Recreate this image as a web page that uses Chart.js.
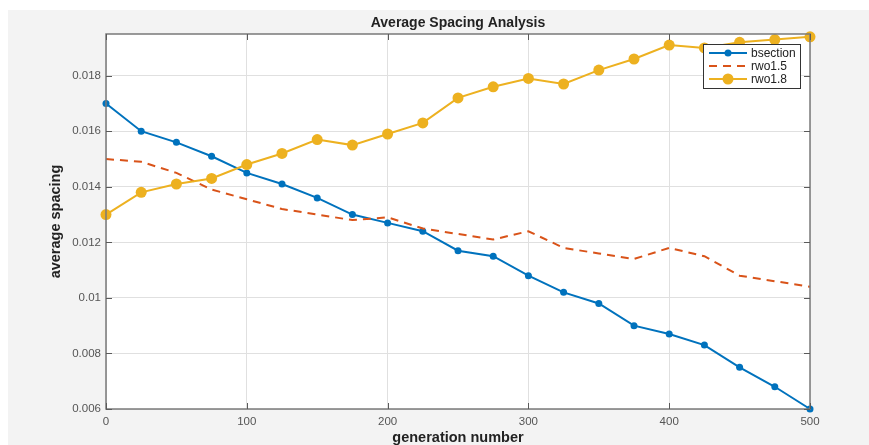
<!DOCTYPE html>
<html>
<head>
<meta charset="utf-8">
<script src="https://cdn.jsdelivr.net/npm/chart.js@4.4.1/dist/chart.umd.min.js"></script>
<style>
    html, body { margin: 0; padding: 0; background: #ffffff; }
    #wrap { position: absolute; left: 0; top: 0; width: 869px; height: 445px; }
</style>
</head>
<body>
<div id="wrap"><canvas id="spacingChart" width="869" height="445"></canvas></div>
<script>
// generation numbers (x values)
const generations = [0, 25, 50, 75, 100, 125, 150, 175, 200, 225, 250, 275, 300, 325, 350, 375, 400, 425, 450, 475, 500];

// series
const bsection = [0.0170, 0.0160, 0.0156, 0.0151, 0.0145, 0.0141, 0.0136, 0.0130, 0.0127, 0.0124, 0.0117,
    0.0115, 0.0108, 0.0102, 0.0098, 0.0090, 0.0087, 0.0083, 0.0075, 0.0068, 0.0060];
const rwo15 = [0.0150, 0.0149, 0.0145, 0.0139, 0.01355, 0.0132, 0.0130, 0.0128, 0.0129, 0.0125, 0.0123,
    0.0121, 0.0124, 0.0118, 0.0116, 0.0114, 0.0118, 0.0115, 0.0108, 0.0106, 0.0104];
const rwo18 = [0.0130, 0.0138, 0.0141, 0.0143, 0.0148, 0.0152, 0.0157, 0.0155, 0.0159, 0.0163, 0.0172,
    0.0176, 0.0179, 0.0177, 0.0182, 0.0186, 0.0191, 0.0190, 0.0192, 0.0193, 0.0194];

const seriesNames = ['bsection', 'rwo1.5', 'rwo1.8'];
const xTicks = [0, 100, 200, 300, 400, 500];
const yTicks = [0.006, 0.008, 0.010, 0.012, 0.014, 0.016, 0.018];

const chartTitle = 'Average Spacing Analysis';
const xTitle = 'generation number';
const yTitle = 'average spacing';

const toPoints = arr => arr.map((v, i) => ({ x: generations[i], y: v }));

// background, box, inward ticks, titles and legend (MATLAB look)
const matlabFrame = {
    id: 'matlabFrame',
    beforeDraw(chart) {
        const ctx = chart.ctx;
        const a = chart.chartArea;
        ctx.save();
        ctx.fillStyle = '#ffffff';
        ctx.fillRect(0, 0, chart.width, chart.height);
        ctx.fillStyle = '#f3f3f3';
        ctx.fillRect(8, 10, chart.width - 8, chart.height - 10);
        ctx.fillStyle = '#ffffff';
        ctx.fillRect(a.left, a.top, a.right - a.left, a.bottom - a.top);
        ctx.restore();
    },
    afterDraw(chart) {
        const ctx = chart.ctx;
        const a = chart.chartArea;
        const xs = chart.scales.x;
        const ys = chart.scales.y;
        ctx.save();

        // axes box
        ctx.strokeStyle = '#7a7a7a';
        ctx.lineWidth = 1.5;
        ctx.strokeRect(a.left, a.top, a.right - a.left, a.bottom - a.top);

        // inward ticks
        ctx.strokeStyle = '#5a5a5a';
        ctx.lineWidth = 1;
        ctx.beginPath();
        xTicks.forEach(t => {
            const px = Math.round(xs.getPixelForValue(t)) + 0.5;
            ctx.moveTo(px, a.bottom); ctx.lineTo(px, a.bottom - 6);
            ctx.moveTo(px, a.top); ctx.lineTo(px, a.top + 6);
        });
        yTicks.forEach(t => {
            const py = Math.round(ys.getPixelForValue(t)) + 0.5;
            ctx.moveTo(a.left, py); ctx.lineTo(a.left + 6, py);
            ctx.moveTo(a.right, py); ctx.lineTo(a.right - 6, py);
        });
        ctx.stroke();

        // titles
        ctx.fillStyle = '#222222';
        ctx.font = 'bold 14px "Liberation Sans", Arial, sans-serif';
        ctx.textAlign = 'center';
        ctx.textBaseline = 'middle';
        ctx.fillText(chartTitle, (a.left + a.right) / 2, 23);
        ctx.font = 'bold 14.5px "Liberation Sans", Arial, sans-serif';
        ctx.fillText(xTitle, (a.left + a.right) / 2, 438);
        ctx.save();
        ctx.translate(56, (a.top + a.bottom) / 2);
        ctx.rotate(-Math.PI / 2);
        ctx.fillText(yTitle, 0, 0);
        ctx.restore();

        // legend box
        const lx = 703, ly = 44, lw = 97, lh = 44;
        ctx.fillStyle = '#ffffff';
        ctx.fillRect(lx, ly, lw, lh);
        ctx.strokeStyle = '#333333';
        ctx.lineWidth = 1;
        ctx.strokeRect(lx + 0.5, ly + 0.5, lw, lh);
        const rows = [53, 66, 79];
        [0, 1, 2].forEach(i => {
            const ds = chart.data.datasets[i];
            const y = rows[i];
            ctx.strokeStyle = ds.borderColor;
            ctx.lineWidth = ds.borderWidth;
            ctx.setLineDash(ds.borderDash || []);
            ctx.beginPath();
            ctx.moveTo(709, y); ctx.lineTo(747, y);
            ctx.stroke();
            ctx.setLineDash([]);
            if (ds.pointRadius > 0) {
                ctx.fillStyle = ds.borderColor;
                ctx.beginPath();
                ctx.arc(728, y, ds.pointRadius, 0, Math.PI * 2);
                ctx.fill();
            }
            ctx.fillStyle = '#222222';
            ctx.font = '12px "Liberation Sans", Arial, sans-serif';
            ctx.textAlign = 'left';
            ctx.fillText(seriesNames[i], 751, y + 1);
        });
        ctx.restore();
    }
};

const ctx = document.getElementById('spacingChart').getContext('2d');
new Chart(ctx, {
    type: 'line',
    data: {
        datasets: [
            {
                label: seriesNames[0],
                data: toPoints(bsection),
                borderColor: '#0072BD',
                backgroundColor: '#0072BD',
                borderWidth: 2,
                pointRadius: 3.5,
                pointBackgroundColor: '#0072BD',
                pointBorderWidth: 0,
                order: 3,
                clip: false
            },
            {
                label: seriesNames[1],
                data: toPoints(rwo15),
                borderColor: '#D95319',
                backgroundColor: '#D95319',
                borderWidth: 2,
                borderDash: [8, 6],
                pointRadius: 0,
                order: 2,
                clip: false
            },
            {
                label: seriesNames[2],
                data: toPoints(rwo18),
                borderColor: '#EDB120',
                backgroundColor: '#EDB120',
                borderWidth: 2,
                pointRadius: 5.5,
                pointBackgroundColor: '#EDB120',
                pointBorderWidth: 0,
                order: 1,
                clip: false
            }
        ]
    },
    options: {
        responsive: false,
        animation: false,
        events: [],
        layout: { padding: { left: 0, top: 34, right: 59, bottom: 0 } },
        plugins: {
            legend: { display: false },
            title: { display: false },
            tooltip: { enabled: false }
        },
        scales: {
            x: {
                type: 'linear',
                min: 0,
                max: 500,
                afterBuildTicks: scale => { scale.ticks = xTicks.map(v => ({ value: v })); },
                afterFit: scale => { scale.height = 36; },
                grid: { color: '#e0e0e0', lineWidth: 1, drawTicks: false },
                border: { display: false },
                ticks: {
                    color: '#555555',
                    padding: 6,
                    font: { size: 11.5, family: '"Liberation Sans", Arial, sans-serif' },
                    callback: v => String(v)
                }
            },
            y: {
                type: 'linear',
                min: 0.006,
                max: 0.0195,
                afterBuildTicks: scale => { scale.ticks = yTicks.map(v => ({ value: v })); },
                afterFit: scale => { scale.width = 106; },
                grid: { color: '#e0e0e0', lineWidth: 1, drawTicks: false },
                border: { display: false },
                ticks: {
                    color: '#555555',
                    padding: 5,
                    font: { size: 11.5, family: '"Liberation Sans", Arial, sans-serif' },
                    callback: v => String(parseFloat(Number(v).toFixed(4)))
                }
            }
        }
    },
    plugins: [matlabFrame]
});
</script>
</body>
</html>
